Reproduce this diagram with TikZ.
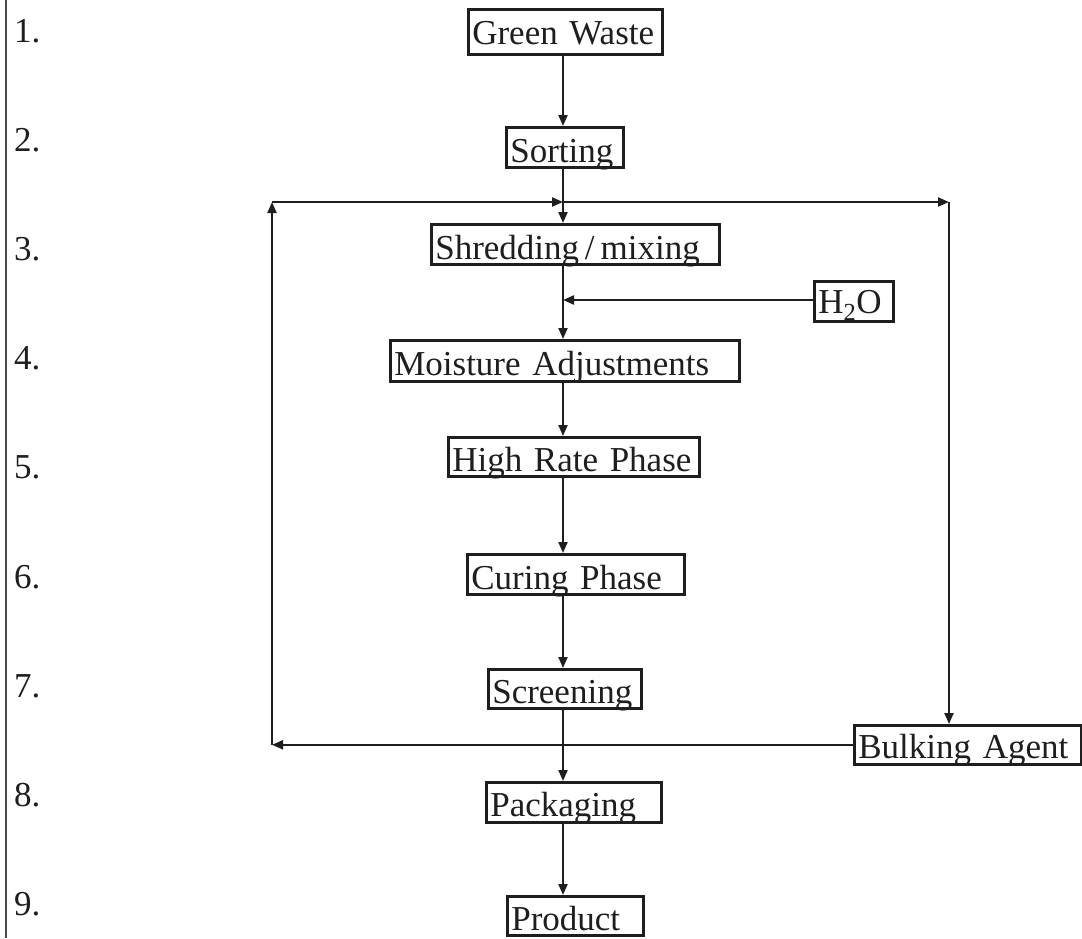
\documentclass[tikz,border=0pt]{standalone}
\usepackage{fontspec}
\setmainfont{Liberation Serif}
\usetikzlibrary{arrows.meta}
\definecolor{ink}{HTML}{1E1E1E}
\definecolor{rule}{HTML}{4A4A4A}
\begin{document}
\begin{tikzpicture}[x=1pt,y=-1pt,
  every node/.style={font=\fontsize{35}{40}\selectfont, text=ink},
  box/.style={draw=ink, line width=2.6pt, inner xsep=4pt, inner ysep=0pt,
    anchor=north west, align=left},
  num/.style={anchor=base west, inner sep=0pt},
  arr/.style={draw=ink, line width=2.1pt, -{Triangle[length=11pt,width=9pt]}}]
\useasboundingbox (0,0) rectangle (1082,938);
\fill[white] (0,0) rectangle (1082,938);
% left rule
\draw[rule, line width=2.6pt] (6,0) -- (6,938);
% step numbers
\node[num] (n1) at (14,42) {1.};
\node[num] (n2) at (14,151) {2.};
\node[num] (n3) at (14,260) {3.};
\node[num] (n4) at (14,369) {4.};
\node[num] (n5) at (14,478) {5.};
\node[num] (n6) at (14,588) {6.};
\node[num] (n7) at (14,697) {7.};
\node[num] (n8) at (14,806) {8.};
\node[num] (n9) at (14,915) {9.};
% boxes
\node[box, text width=186pt, text height=35pt, text depth=10pt] (gw) at (467,8) {\mbox{Green Waste}};
\node[box, text width=109pt, text height=35pt, text depth=5pt] (sort) at (505,126) {\mbox{Sorting}};
\node[box, text width=280pt, text height=35pt, text depth=5pt] (shred) at (430,223) {\mbox{Shredding\,/\,mixing}};
\node[box, text width=71pt, text height=32pt, text depth=8pt] (h2o) at (813,280) {\mbox{H\textsubscript{2}O}};
\node[box, text width=341pt, text height=35pt, text depth=6pt] (moist) at (389,339) {\mbox{Moisture Adjustments}};
\node[box, text width=243pt, text height=34pt, text depth=5pt] (high) at (447,436) {\mbox{High Rate Phase}};
\node[box, text width=209pt, text height=35pt, text depth=5pt] (cure) at (466,553) {\mbox{Curing Phase}};
\node[box, text width=145pt, text height=34pt, text depth=5pt] (screen) at (487,668) {\mbox{Screening}};
\node[box, text width=219pt, text height=33pt, text depth=6pt] (bulk) at (853,724) {\mbox{Bulking Agent}};
\node[box, text width=167pt, text height=34pt, text depth=6pt] (pack) at (485,781) {\mbox{Packaging}};
\node[box, text width=128pt, text height=34pt, text depth=5pt] (prod) at (506,895) {\mbox{Product}};
% descenders are cut off by the box frame, as in the scan
\foreach \b in {sort,shred,h2o,moist,high,cure,screen,bulk,pack,prod}
  \fill[white] ([yshift=-1.35pt]\b.south west) rectangle ([yshift=-13pt]\b.south east);
% axis and loop coordinates
\coordinate (ax) at (563,0);
\coordinate (cross) at (563,202);
\coordinate (topL) at (272,202);
\coordinate (topR) at (949,202);
\coordinate (botL) at (272,743);
\coordinate (wet) at (563,300);
% main chain
\draw[arr] (gw.south -| ax) -- (sort.north -| ax);
\draw[arr] (sort.south -| ax) -- (shred.north -| ax);
\draw[arr] (shred.south -| ax) -- (moist.north -| ax);
\draw[arr] (moist.south -| ax) -- (high.north -| ax);
\draw[arr] (high.south -| ax) -- (cure.north -| ax);
\draw[arr] (cure.south -| ax) -- (screen.north -| ax);
\draw[arr] (screen.south -| ax) -- (pack.north -| ax);
\draw[arr] (pack.south -| ax) -- (prod.north -| ax);
% water
\draw[arr] (h2o.west |- wet) -- (wet);
% bulking agent loop
\draw[arr] (bulk.west) -- (bulk.west -| botL);
\draw[arr] (bulk.west -| botL) -- (topL);
\draw[arr] (topL) -- (cross);
\draw[arr] (cross) -- (topR);
\draw[arr] (topR) -- (bulk.north -| topR);
\end{tikzpicture}
\end{document}
